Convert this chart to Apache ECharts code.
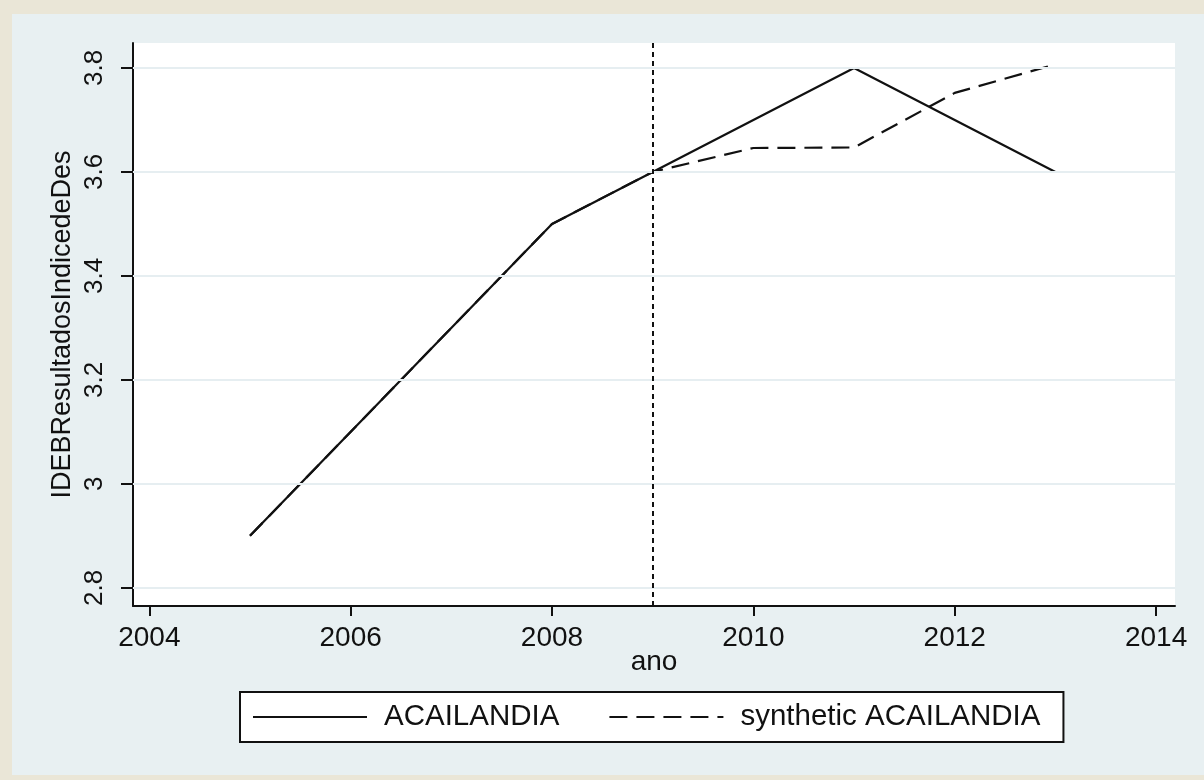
<!DOCTYPE html>
<html>
<head>
<meta charset="utf-8">
<script src="https://cdn.jsdelivr.net/npm/echarts@6/dist/echarts.min.js"></script>
<style>
  html, body { margin: 0; padding: 0; background: #EAE6D7; width: 1204px; height: 780px; overflow: hidden; }
  #chart { position: absolute; left: 12px; top: 14px; width: 1192px; height: 761px; background: #E8F0F2; }
</style>
</head>
<body>
<div id="chart"></div>
<script>
// IDEB series for Açailândia and its synthetic control
const years = [2005, 2008, 2009, 2010, 2011, 2012, 2013];
const acailandia = [2.9, 3.5, 3.6, 3.7, 3.8, 3.7, 3.6];
const syntheticAcailandia = [2.9, 3.5, 3.6, 3.646, 3.647, 3.752, 3.807];
const seriesNames = ['ACAILANDIA', 'synthetic ACAILANDIA'];
const xTicks = [2004, 2006, 2008, 2010, 2012, 2014];
const yTicks = [2.8, 3, 3.2, 3.4, 3.6, 3.8];
const treatmentYear = 2009;

const FONT = "'Liberation Sans', Arial, sans-serif";
const INK = '#111111';

const pairs = (xs, ys) => xs.map((x, i) => [x, ys[i]]);

const chart = echarts.init(document.getElementById('chart'), null, { renderer: 'canvas' });

chart.setOption({
  animation: false,
  backgroundColor: 'transparent',
  textStyle: { fontFamily: FONT, color: INK },
  grid: {
    left: 121, right: 29, top: 29, bottom: 169,
    show: true, backgroundColor: '#FFFFFF', borderWidth: 0
  },
  xAxis: {
    type: 'value',
    min: 2003.838,
    max: 2014.188,
    name: 'ano',
    nameLocation: 'middle',
    nameGap: 42,
    nameMoveOverlap: false,
    nameTextStyle: { fontFamily: FONT, fontSize: 28, color: INK },
    axisLine: { show: true, onZero: false, lineStyle: { color: INK, width: 2 } },
    axisTick: { show: true, length: 10, lineStyle: { color: INK, width: 2 }, customValues: xTicks },
    axisLabel: {
      fontFamily: FONT, fontSize: 28, color: INK, margin: 18,
      customValues: xTicks,
      formatter: v => String(v)
    },
    splitLine: { show: false }
  },
  yAxis: {
    type: 'value',
    min: 2.765,
    max: 3.848,
    name: 'IDEBResultadosIndicedeDes',
    nameLocation: 'middle',
    nameGap: 57,
    nameMoveOverlap: false,
    nameTextStyle: { fontFamily: FONT, fontSize: 27, color: INK },
    axisLine: { show: true, onZero: false, lineStyle: { color: INK, width: 2 } },
    axisTick: { show: true, length: 12, lineStyle: { color: INK, width: 2 }, customValues: yTicks },
    axisLabel: {
      fontFamily: FONT, fontSize: 26, color: INK, margin: 25, rotate: 90,
      customValues: yTicks,
      formatter: v => String(v)
    },
    splitLine: { show: false }
  },
  legend: {
    data: seriesNames.map(n => ({ name: n, itemStyle: { opacity: 0 } })),
    left: 228,
    top: 678,
    orient: 'horizontal',
    backgroundColor: '#FFFFFF',
    borderColor: INK,
    borderWidth: 2,
    borderRadius: 0,
    padding: [10, 23, 10, 12],
    itemWidth: 114,
    itemHeight: 20,
    itemGap: 49,
    textStyle: { fontFamily: FONT, fontSize: 29.5, color: INK, lineHeight: 28, padding: [0, 0, 0, 12] },
    selectedMode: false
  },
  series: [
    {
      // horizontal guide lines at each y tick
      type: 'line',
      data: [],
      silent: true,
      markLine: {
        silent: true,
        symbol: 'none',
        label: { show: false },
        lineStyle: { color: '#E6EEF1', width: 2, type: 'solid' },
        data: yTicks.map(v => ({ yAxis: v }))
      }
    },
    {
      name: seriesNames[0],
      type: 'line',
      data: pairs(years, acailandia),
      showSymbol: false,
      symbol: 'none',
      lineStyle: { color: INK, width: 2.2, type: 'solid' },
      itemStyle: { color: INK },
      z: 3,
      markLine: {
        silent: true,
        symbol: 'none',
        label: { show: false },
        lineStyle: { color: INK, width: 2, type: [5, 4] },
        data: [{ xAxis: treatmentYear }]
      }
    },
    {
      name: seriesNames[1],
      type: 'line',
      data: pairs(years, syntheticAcailandia),
      showSymbol: false,
      symbol: 'none',
      lineStyle: { color: INK, width: 2.2, type: [18, 9] },
      itemStyle: { color: INK },
      z: 3
    }
  ]
});
</script>
</body>
</html>
